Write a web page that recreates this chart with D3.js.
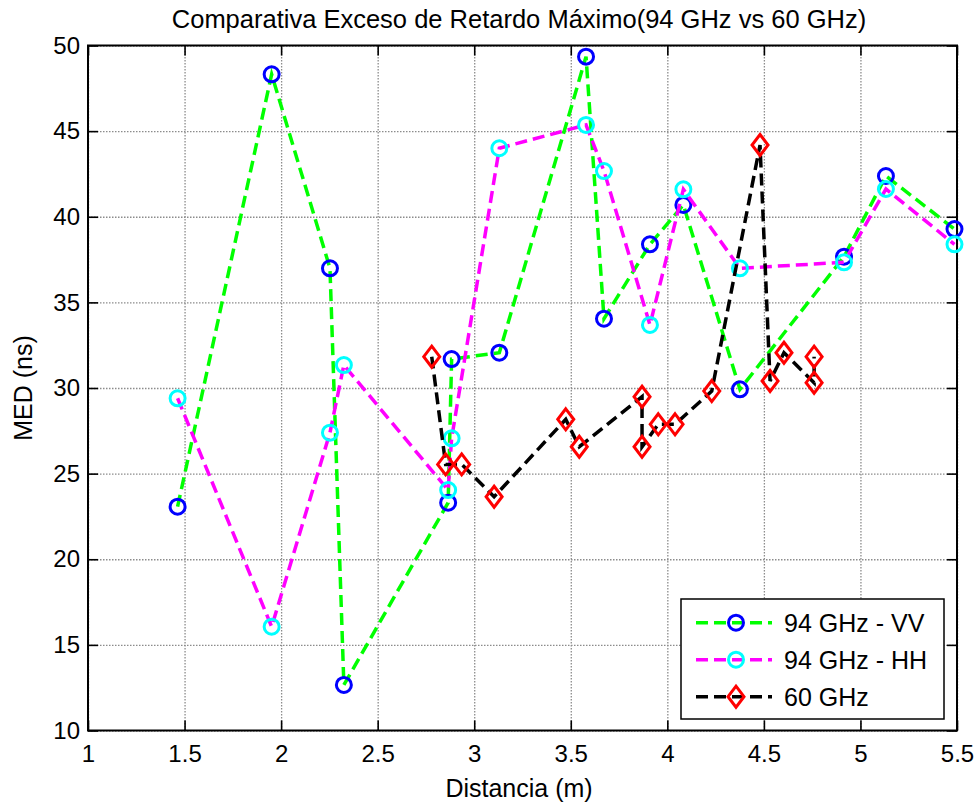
<!DOCTYPE html>
<html lang="es">

<head>
    <meta charset="UTF-8">
    <title>Comparativa Exceso de Retardo Máximo</title>
    <script src="https://cdn.jsdelivr.net/npm/d3@7"></script>
    <style>
    body{
        margin: 0;
        background: #fff;
    }
    svg text{
        font-family: "Liberation Sans", Arial, sans-serif;
        fill: #000;
    }
    .tickAxis path{
        display: none;
    }
    .tickAxis line{
        stroke: #000;
        stroke-width: 1.6;
    }
    .tickAxis text{
        font-size: 24px;
    }
    .grid path{
        display: none;
    }
    .grid line{
        stroke: #8c8c8c;
        stroke-width: 1.3;
        stroke-dasharray: 1.5,1.5;
    }
    .frame{
        fill: none;
        stroke: #000;
        stroke-width: 2;
    }
    .serieLine{
        fill: none;
        stroke-width: 3.5;
        stroke-dasharray: 12,6;
    }
    .marker{
        fill: none;
        stroke-width: 3;
    }
    </style>
</head>

<body>
    <div id="root"></div>

    <script>
        // distancias (m) de las medidas a 94 GHz (VV y HH comparten posiciones)
        const dist94 = [1.464, 1.951, 2.253, 2.325, 2.865, 2.883, 3.13, 3.579, 3.672, 3.91, 4.083, 4.376, 4.915, 5.132, 5.487]
        const med94VV = [23.07, 48.32, 36.99, 12.66, 23.3, 31.69, 32.06, 49.35, 34.05, 38.39, 40.69, 29.92, 37.67, 42.38, 39.28]
        const med94HH = [29.4, 16.06, 27.39, 31.34, 24.04, 27.06, 44.0, 45.36, 42.67, 33.68, 41.6, 36.99, 37.34, 41.62, 38.39]
        // 60 GHz
        const dist60 = [2.78, 2.852, 2.935, 3.103, 3.474, 3.544, 3.869, 3.869, 3.953, 4.04, 4.23, 4.48, 4.532, 4.604, 4.76, 4.76]
        const med60 = [31.83, 25.54, 25.54, 23.65, 28.17, 26.57, 29.49, 26.57, 27.88, 27.88, 29.82, 44.19, 30.41, 32.06, 30.31, 31.83]

        const seriesNames = ['94 GHz - VV', '94 GHz - HH', '60 GHz']
        const xTicks = [1, 1.5, 2, 2.5, 3, 3.5, 4, 4.5, 5, 5.5]
        const yTicks = [10, 15, 20, 25, 30, 35, 40, 45, 50]

        let width = 976
        let height = 805
        let plotL = 88, plotR = 957, plotT = 45.5, plotB = 730.5
        let tickLen = 10

        let svg = d3.select('#root').append('svg')
            .attr('width', width).attr('height', height)

        const xScale = d3.scaleLinear().domain([1, 5.5]).range([plotL, plotR])
        const yScale = d3.scaleLinear().domain([10, 50]).range([plotB, plotT])

        const series = [
            { name: seriesNames[0], x: dist94, y: med94VV, line: '#00ff00', mark: '#0000ff', shape: 'circle' },
            { name: seriesNames[1], x: dist94, y: med94HH, line: '#ff00ff', mark: '#00ffff', shape: 'circle' },
            { name: seriesNames[2], x: dist60, y: med60, line: '#000000', mark: '#ff0000', shape: 'diamond' }
        ]

        const diamond = (cx, cy) => `M${cx},${cy - 10.5}L${cx + 8},${cy}L${cx},${cy + 10.5}L${cx - 8},${cy}Z`

        const renderGrid = () => {   // rejilla punteada
            svg.append('g').attr('class', 'grid')
                .attr('transform', `translate(0,${plotB})`)
                .call(d3.axisBottom(xScale).tickValues(xTicks).tickSize(-(plotB - plotT)).tickFormat(''))
            svg.append('g').attr('class', 'grid')
                .attr('transform', `translate(${plotL},0)`)
                .call(d3.axisLeft(yScale).tickValues(yTicks).tickSize(-(plotR - plotL)).tickFormat(''))
        }

        const renderAxes = () => {   // ejes con marcas hacia dentro
            svg.append('g').attr('class', 'tickAxis')
                .attr('transform', `translate(0,${plotB})`)
                .call(d3.axisBottom(xScale).tickValues(xTicks).tickSize(-tickLen).tickPadding(14).tickFormat(d3.format('')))
            svg.append('g').attr('class', 'tickAxis')
                .attr('transform', `translate(0,${plotT})`)
                .call(d3.axisTop(xScale).tickValues(xTicks).tickSize(-tickLen).tickFormat(''))
            svg.append('g').attr('class', 'tickAxis')
                .attr('transform', `translate(${plotL},0)`)
                .call(d3.axisLeft(yScale).tickValues(yTicks).tickSize(-tickLen).tickPadding(8))
            svg.append('g').attr('class', 'tickAxis')
                .attr('transform', `translate(${plotR},0)`)
                .call(d3.axisRight(yScale).tickValues(yTicks).tickSize(-tickLen).tickFormat(''))

            svg.append('rect').attr('class', 'frame')
                .attr('x', plotL).attr('y', plotT)
                .attr('width', plotR - plotL).attr('height', plotB - plotT)
        }

        const renderSeries = () => {
            series.forEach((s) => {
                const pts = s.x.map((d, i) => ({ x: d, y: s.y[i] }))
                const line = d3.line()
                    .x(d => xScale(d.x))
                    .y(d => yScale(d.y))
                svg.append('path').attr('class', 'serieLine')
                    .attr('stroke', s.line)
                    .attr('d', line(pts))
                const g = svg.append('g')
                if (s.shape == 'circle') {
                    g.selectAll('circle').data(pts).enter().append('circle')
                        .attr('class', 'marker')
                        .attr('stroke', s.mark)
                        .attr('cx', d => xScale(d.x))
                        .attr('cy', d => yScale(d.y))
                        .attr('r', 7.5)
                } else {
                    g.selectAll('path').data(pts).enter().append('path')
                        .attr('class', 'marker')
                        .attr('stroke', s.mark)
                        .attr('d', d => diamond(xScale(d.x), yScale(d.y)))
                }
            })
        }

        const renderLegend = () => {
            const lg = svg.append('g').attr('transform', 'translate(681,599)')
            lg.append('rect')
                .attr('width', 263).attr('height', 120)
                .attr('fill', '#fff').attr('stroke', '#000').attr('stroke-width', 1.5)
            series.forEach((s, i) => {
                const cy = 23.7 + i * 37
                lg.append('line').attr('class', 'serieLine')
                    .attr('stroke', s.line)
                    .attr('x1', 15).attr('x2', 91).attr('y1', cy).attr('y2', cy)
                    .attr('stroke-dasharray', '13,6')
                if (s.shape == 'circle') {
                    lg.append('circle').attr('class', 'marker').attr('stroke', s.mark)
                        .attr('cx', 55).attr('cy', cy).attr('r', 7.5)
                } else {
                    lg.append('path').attr('class', 'marker').attr('stroke', s.mark)
                        .attr('d', diamond(55, cy))
                }
                lg.append('text')
                    .attr('x', 103).attr('y', cy).attr('dy', '0.36em')
                    .style('font-size', '25px')
                    .text(s.name)
            })
        }

        const renderLabels = () => {
            svg.append('text')
                .attr('x', 519).attr('y', 28)
                .attr('text-anchor', 'middle')
                .style('font-size', '25.5px')
                .text('Comparativa Exceso de Retardo Máximo(94 GHz vs 60 GHz)')
            svg.append('text')
                .attr('x', 519).attr('y', 797)
                .attr('text-anchor', 'middle')
                .style('font-size', '25px')
                .text('Distancia (m)')
            svg.append('text')
                .attr('transform', `translate(32,${(plotT + plotB) / 2}) rotate(-90)`)
                .attr('text-anchor', 'middle')
                .style('font-size', '25px')
                .text('MED (ns)')
        }

        renderGrid()
        renderAxes()
        renderSeries()
        renderLegend()
        renderLabels()
    </script>
</body>

</html>
